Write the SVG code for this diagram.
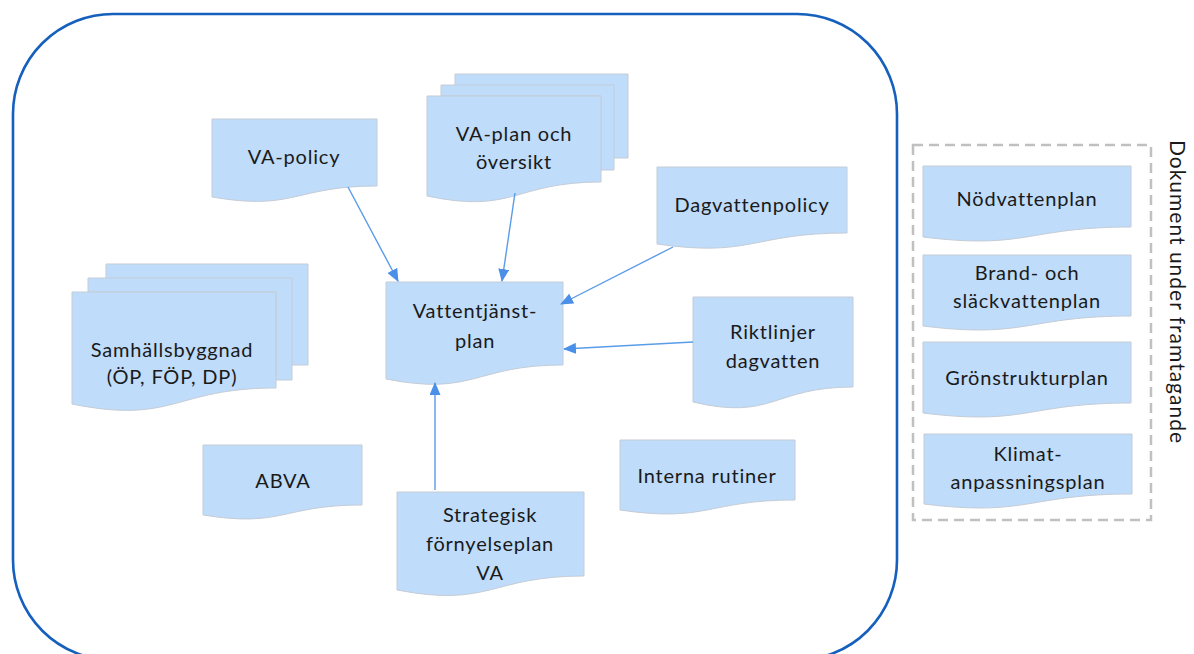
<svg xmlns="http://www.w3.org/2000/svg" width="1194" height="654" viewBox="0 0 1194 654">
<style>
.doc{fill:#bfdcfb;stroke:#c4ccd6;stroke-width:1}
.t{font-family:Lato,"Liberation Sans",sans-serif;font-size:20px;letter-spacing:0.8px;fill:#1a1a1a;text-anchor:middle}
.c{stroke:#5a9ce8;stroke-width:1.4;fill:none;marker-end:url(#ah)}
</style>
<defs>
<marker id="ah" viewBox="0 0 13 11" refX="12" refY="5.5" markerWidth="13" markerHeight="11" markerUnits="userSpaceOnUse" orient="auto">
<path d="M0,0 L13,5.5 L0,11 Z" fill="#4a90e8"/>
</marker>
</defs>
<rect id="frame" x="13" y="14" width="884" height="646" rx="100" ry="100" fill="none" stroke="#1560bd" stroke-width="2.6"/>
<rect id="pending" x="913" y="145" width="238" height="375" fill="none" stroke="#c0c0c0" stroke-width="2.5" stroke-dasharray="10 6"/>
<text class="t" transform="translate(1170,292) rotate(90)" style="font-size:21px;letter-spacing:1px">Dokument under framtagande</text>

<g id="va-policy">
<path class="doc" d="M212,119 H377 V186 C294.5,186 294.5,211.4 212,197 Z"/>
<text class="t" x="294" y="164">VA-policy</text>
</g>

<g id="va-plan">
<path class="doc" d="M455,74 H628 V158 H601 V96 H455 Z"/>
<path class="doc" d="M441,85 H614 V170 H601 V96 H441 Z"/>
<path class="doc" d="M427,96 H601 V182 C514,182 514,214.5 427,196 Z"/>
<text class="t" x="514" y="141">VA-plan och</text>
<text class="t" x="514" y="169">översikt</text>
</g>

<g id="dagvattenpolicy">
<path class="doc" d="M657,167 H847 V233 C752,233 752,257.8 657,244 Z"/>
<text class="t" x="752" y="212">Dagvattenpolicy</text>
</g>

<g id="samhallsbyggnad">
<path class="doc" d="M106,264 H308 V365 H276 V292 H106 Z"/>
<path class="doc" d="M88,278 H292 V380 H276 V292 H88 Z"/>
<path class="doc" d="M72,292 H276 V388 C174,388 174,424.8 72,404 Z"/>
<text class="t" x="172" y="357">Samhällsbyggnad</text>
<text class="t" x="172" y="384">(ÖP, FÖP, DP)</text>
</g>

<g id="vattentjanstplan">
<path class="doc" d="M386,282 H563 V365 C474.5,365 474.5,396.5 386,379 Z"/>
<text class="t" x="475" y="318">Vattentjänst-</text>
<text class="t" x="475" y="348">plan</text>
</g>

<g id="riktlinjer">
<path class="doc" d="M693,297 H853 V387 C773,387 773,421 693,402 Z"/>
<text class="t" x="773" y="339">Riktlinjer</text>
<text class="t" x="773" y="368">dagvatten</text>
</g>

<g id="abva">
<path class="doc" d="M203,445 H362 V505 C282.5,505 282.5,528 203,515 Z"/>
<text class="t" x="283" y="488">ABVA</text>
</g>

<g id="interna-rutiner">
<path class="doc" d="M620,440 H795 V500 C707.5,500 707.5,523 620,510 Z"/>
<text class="t" x="707" y="483">Interna rutiner</text>
</g>

<g id="strategisk">
<path class="doc" d="M397,492 H584 V576 C490.5,576 490.5,608 397,590 Z"/>
<text class="t" x="490" y="522">Strategisk</text>
<text class="t" x="490" y="551">förnyelseplan</text>
<text class="t" x="490" y="580">VA</text>
</g>

<g id="nodvattenplan">
<path class="doc" d="M923,166 H1131 V227 C1027,227 1027,250 923,237 Z"/>
<text class="t" x="1027" y="206">Nödvattenplan</text>
</g>

<g id="brandplan">
<path class="doc" d="M923,255 H1131 V316 C1027,316 1027,339 923,326 Z"/>
<text class="t" x="1027" y="280">Brand- och</text>
<text class="t" x="1027" y="308">släckvattenplan</text>
</g>

<g id="gronstrukturplan">
<path class="doc" d="M923,342 H1131 V403 C1027,403 1027,426 923,413 Z"/>
<text class="t" x="1027" y="385">Grönstrukturplan</text>
</g>

<g id="klimatplan">
<path class="doc" d="M924,434 H1132 V494 C1028,494 1028,517 924,504 Z"/>
<text class="t" x="1028" y="461">Klimat-</text>
<text class="t" x="1028" y="489">anpassningsplan</text>
</g>

<g id="connectors">
<line class="c" x1="348" y1="187" x2="398" y2="281"/>
<line class="c" x1="515" y1="193" x2="502" y2="281"/>
<line class="c" x1="673" y1="247" x2="561" y2="304"/>
<line class="c" x1="693" y1="342" x2="564" y2="349"/>
<line class="c" x1="435" y1="490" x2="435" y2="383"/>
</g>
</svg>
